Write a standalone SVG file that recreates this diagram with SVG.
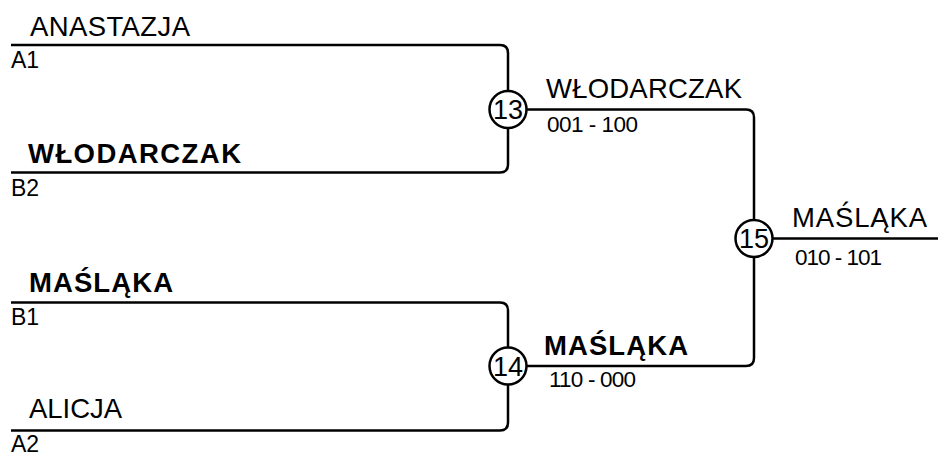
<svg xmlns="http://www.w3.org/2000/svg" width="938" height="455" viewBox="0 0 938 455">
<style>
text{font-family:"Liberation Sans",Arial,sans-serif;fill:#000}
.name{font-size:27.5px}
.bold{font-size:27.5px;font-weight:bold}
.seed{font-size:23px}
.score{font-size:22.5px}
.num{font-size:27px;text-anchor:middle}
.line{fill:none;stroke:#000;stroke-width:2.5}
.circ{fill:#fff;stroke:#000;stroke-width:2.5}
</style>
<rect width="938" height="455" fill="#fff"/>
<g id="connectors">
<path class="line" d="M11,45 H500 Q508,45 508,53 V164.5 Q508,172.5 500,172.5 H11"/>
<path class="line" d="M11,302.5 H500 Q508,302.5 508,310.5 V422.5 Q508,430.5 500,430.5 H11"/>
<path class="line" d="M508,109.5 H746 Q754,109.5 754,117.5 V358 Q754,366 746,366 H508"/>
<path class="line" d="M754,238.5 H938"/>
</g>
<g id="slot-a1">
<text class="name" x="30" y="36" textLength="160" lengthAdjust="spacing">ANASTAZJA</text>
<text class="seed" x="11" y="68" textLength="28" lengthAdjust="spacing">A1</text>
</g>
<g id="slot-b2">
<text class="bold" x="28" y="163" textLength="213" lengthAdjust="spacing">WŁODARCZAK</text>
<text class="seed" x="11" y="196" textLength="28" lengthAdjust="spacing">B2</text>
</g>
<g id="slot-b1">
<text class="bold" x="29" y="292" textLength="144" lengthAdjust="spacing">MAŚLĄKA</text>
<text class="seed" x="11" y="325" textLength="28" lengthAdjust="spacing">B1</text>
</g>
<g id="slot-a2">
<text class="name" x="29" y="418" textLength="93" lengthAdjust="spacing">ALICJA</text>
<text class="seed" x="11" y="452" textLength="28" lengthAdjust="spacing">A2</text>
</g>
<g id="match-13">
<circle class="circ" cx="508" cy="109.5" r="18.5"/>
<text class="num" x="508" y="119">13</text>
<text class="name" x="546" y="98" textLength="196" lengthAdjust="spacing">WŁODARCZAK</text>
<text class="score" x="547" y="132" textLength="91" lengthAdjust="spacing">001 - 100</text>
</g>
<g id="match-14">
<circle class="circ" cx="508" cy="366" r="18.5"/>
<text class="num" x="508" y="375.5">14</text>
<text class="bold" x="544" y="355" textLength="144" lengthAdjust="spacing">MAŚLĄKA</text>
<text class="score" x="549" y="387" textLength="87" lengthAdjust="spacing">110 - 000</text>
</g>
<g id="match-15">
<circle class="circ" cx="754" cy="238.5" r="18.5"/>
<text class="num" x="754" y="248">15</text>
<text class="name" x="792" y="227" textLength="135" lengthAdjust="spacing">MAŚLĄKA</text>
<text class="score" x="795" y="265" textLength="87" lengthAdjust="spacing">010 - 101</text>
</g>
</svg>
